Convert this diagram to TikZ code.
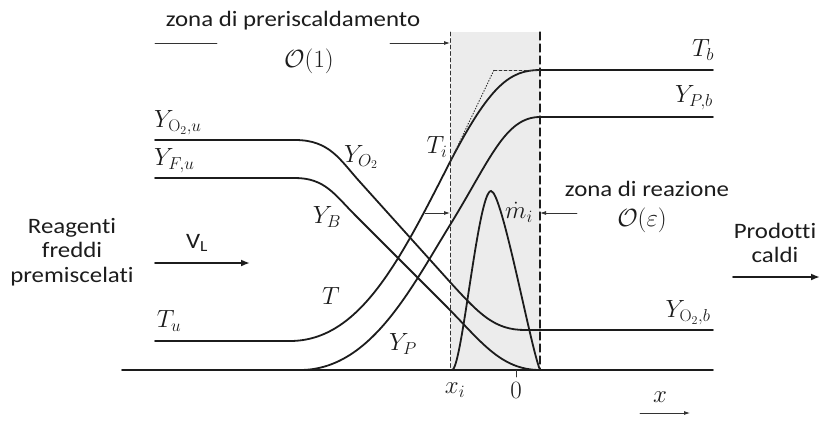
\documentclass[tikz,border=0pt]{standalone}
\usepackage{amsmath,amssymb}
\usepackage{fontspec}
\newfontfamily\sanslarga[FakeStretch=1.13,Ligatures=NoCommon]{Carlito}
\usetikzlibrary{arrows.meta,positioning,calc}
\definecolor{grigio}{HTML}{ECECEC}
\definecolor{nero}{HTML}{1C1C1C}
\definecolor{scuro}{HTML}{333333}

\begin{document}
\begin{tikzpicture}[x=1pt,y=-1pt,
    line cap=round,
    curva/.style={nero,line width=1.8pt},
    testo/.style={nero,font=\sanslarga\fontsize{22}{24.5}\selectfont,
                  align=center,inner sep=0pt},
    etich/.style={nero,font=\fontsize{24}{26}\selectfont,inner sep=0pt},
    ordine/.style={nero,font=\fontsize{31}{33}\selectfont,inner sep=0pt},
    freccia/.style={-{Latex[length=9pt,width=7pt]},nero,line width=1.8pt},
    fine/.style={-{Latex[length=6pt,width=4pt]},scuro,line width=0.8pt},
    tratto/.style={scuro,line width=0.8pt}]
  \useasboundingbox (0,0) rectangle (821,423);
  % --- zona di reazione (fascia grigia) e linee tratteggiate
  \fill[grigio] (451,32) rectangle (540,370);
  \coordinate (xi-top) at (450,32);
  \coordinate (xi-bot) at (450,370);
  \coordinate (zr-top) at (540,32);
  \coordinate (zr-bot) at (540,370);
  \draw[tratto,dash pattern=on 4pt off 2.5pt] (xi-top) -- (xi-bot);
  \draw[nero,line width=1.2pt,dash pattern=on 8pt off 4pt] (zr-top) -- (zr-bot);
  % --- profili
  \draw[curva] (122,370) -- (713,370);
  \draw[curva] (155,341) -- (290,341)
        .. controls (360,341) and (400,260) .. (450,162)
        .. controls (490,85) and (510,70) .. (540,70) -- (713,70);
  \draw[curva] (300,370) .. controls (370,370) and (410,290) .. (450,225)
        .. controls (490,160) and (505,117) .. (540,117) -- (713,117);
  \draw[curva] (155,140) -- (295,140)
        .. controls (330,140) and (340,160) .. (360,182) -- (450,282)
        .. controls (480,315) and (495,330) .. (525,330) -- (713,330);
  \draw[curva] (155,178) -- (295,178)
        .. controls (325,178) and (335,195) .. (355,215) -- (445,305)
        .. controls (480,340) and (500,370) .. (540,370);
  \draw[curva] (452,370) .. controls (462,370) and (478,191) .. (491,191)
        .. controls (502,191) and (530,345) .. (540,370);
  % tangente in T_i
  \coordinate (ti) at (450,162);
  \coordinate (tg) at (494,70);
  \draw[tratto,dotted,line width=1pt] (ti) -- (tg);
  \draw[tratto,dash pattern=on 3pt off 2pt] (tg) -- (zr-top |- tg);
  % --- testi in alto
  \node[testo] (prerisc) at (293,21) {zona di preriscaldamento};
  \node[ordine] (ord1) at (309,61) {$\mathcal{O}(1)$};
  \coordinate (pr-a) at (155,43);
  \coordinate (pr-b) at (217,43);
  \coordinate (pr-c) at (390,43);
  \draw[tratto] (pr-a) -- (pr-b);
  \draw[fine] (pr-c) -- (xi-top |- pr-c);
  % --- etichette dei profili
  \node[etich,anchor=south west] (yo2u) at (154,135) {$Y_{\mathrm{O}_2,u}$};
  \node[etich,anchor=south west] (yfu) at (154,173) {$Y_{F,u}$};
  \node[etich] (yo2) at (361,157) {$Y_{O_2}$};
  \node[etich] (yb) at (327,217) {$Y_B$};
  \node[etich] (tilab) at (437,147) {$T_i$};
  \node[etich] (tlab) at (331,296) {$T$};
  \node[etich] (tu) at (169,321) {$T_u$};
  \node[etich] (yp) at (403,344) {$Y_P$};
  \node[etich] (tb) at (703,50) {$T_b$};
  \node[etich] (ypb) at (694,98) {$Y_{P,b}$};
  \node[etich] (yo2b) at (688,313) {$Y_{\mathrm{O}_2,b}$};
  % --- spessore zona di reazione
  \node[etich] (mi) at (519,212) {$\dot{m}_i$};
  \coordinate (mi-l) at (425,213);
  \coordinate (mi-r) at (577,213);
  \draw[fine] (mi-l) -- (xi-top |- mi-l);
  \draw[fine] (mi-r) -- (zr-top |- mi-r);
  \node[testo] (zreaz) at (647,189) {zona di reazione};
  \node[ordine] (ordeps) at (642,220) {$\mathcal{O}(\varepsilon)$};
  % --- asse x
  \node[etich] (xilab) at (455,390) {$x_i$};
  \node[etich] (zero) at (516,390) {$0$};
  \coordinate (tk) at (516,377);
  \draw[tratto] (tk) -- (tk |- zr-bot);
  \node[etich] (xlab) at (660,397) {$x$};
  \coordinate (xa) at (640,413);
  \coordinate (xb) at (690,413);
  \draw[fine] (xa) -- (xb);
  % --- reagenti e prodotti
  \node[testo] (reag) at (72,252) {Reagenti\\freddi\\premiscelati};
  \node[testo] (vl) at (197,243) {V\textsubscript{L}};
  \coordinate (va) at (155,263);
  \coordinate (vb) at (250,263);
  \draw[freccia] (va) -- (vb);
  \node[testo] (prod) at (775,243) {Prodotti\\caldi};
  \coordinate (pa) at (733,277);
  \coordinate (pb) at (820,277);
  \draw[freccia] (pa) -- (pb);
\end{tikzpicture}
\end{document}
